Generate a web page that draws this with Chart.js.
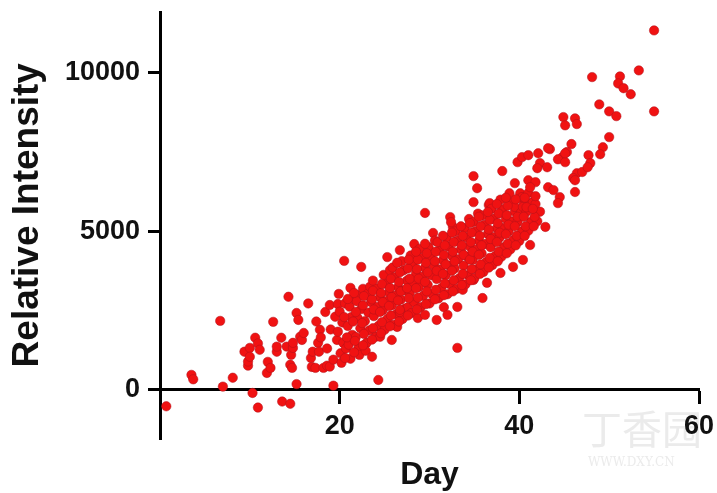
<!DOCTYPE html>
<html>
<head>
<meta charset="utf-8">
<script src="https://cdn.jsdelivr.net/npm/chart.js@4.4.1/dist/chart.umd.min.js"></script>
<style>
  html, body { margin: 0; padding: 0; background: #fff; }
  #wrap { width: 717px; height: 493px; }
</style>
</head>
<body>
<div id="wrap"><canvas id="chart"></canvas></div>
<script>
// [day, relative intensity]
const lowerTail = [
    [0.7,-520],[3.5,470],[3.7,330],[6.7,2170],[7.0,100],[8.1,380],
    [9.4,1200],[9.8,760],[9.8,890],[10.0,1320],[10.0,1040],[10.3,-100],
    [10.6,1640],[10.9,-560],[10.9,1460],[11.1,1260],[11.9,530],[12.0,880],
    [12.3,690],[12.6,2140],[13.0,1200],[13.0,1360],[13.5,1640],[13.6,-370],
    [14.1,1360],[14.3,2930],[14.5,-440],[14.5,790],[14.6,1100],[14.7,690],
    [14.8,1320],[14.8,1480],[15.2,180],[15.2,2420],[15.4,2200],[15.6,1670],
    [15.8,1570],[16.0,1790],[16.5,2720],[16.8,1000],[16.9,720],[17.0,1200],
    [17.3,690],[17.4,2150],[17.6,1480],[17.7,1200],[17.8,1890],[17.9,1650],
    [18.2,690],[18.4,2450],[18.6,760],[18.6,1300],[18.9,730],[18.9,2670],
    [19.0,1900],[19.3,130],[19.3,950],[19.5,2300],[19.7,1570],[19.8,2700]
];

const core = [
    [20.1,1150],[20.4,1480],[19.8,1830],[20.3,2120],[20.0,2460],[20.6,2720],[19.9,3020],[20.7,1300],[20.2,850],[20.5,4060],
    [21.2,980],[21.0,1420],[21.4,1730],[20.9,2010],[21.3,2290],[21.1,2620],[21.5,2880],[21.2,3210],[21.9,2990],
    [22.1,1320],[21.8,1660],[22.3,1940],[22.0,2260],[22.4,2540],[21.9,2790],[22.2,1100],[22.4,3870],[22.6,3180],
    [23.0,1480],[23.3,1870],[22.8,2160],[23.2,2430],[23.5,2760],[23.1,3020],[22.9,1230],[23.6,1040],[23.4,3250],
    [24.0,1670],[24.3,2010],[23.8,2320],[24.2,2610],[24.5,2920],[24.1,3190],[23.7,3440],[24.5,1670],[24.3,310],
    [25.0,1890],[25.3,2230],[24.8,2510],[25.2,2790],[25.5,3060],[25.1,3340],[24.9,3620],[25.8,1570],[25.3,4180],[25.6,3770],
    [26.0,2040],[26.3,2380],[25.8,2660],[26.2,2960],[26.5,3230],[26.1,3540],[25.9,3850],[26.4,1980],[26.7,4400],
    [27.0,2230],[27.3,2560],[26.8,2840],[27.2,3130],[27.5,3440],[27.1,3760],[26.9,4050],[27.6,2600],[26.7,2450],
    [28.0,2420],[28.3,2760],[27.8,3040],[28.2,3360],[28.5,3660],[28.1,3950],[27.9,4230],[28.7,2260],[28.3,4590],
    [29.0,2600],[29.3,2960],[28.8,3240],[29.2,3560],[29.5,3840],[29.1,4150],[28.9,4440],[29.5,2360],[29.5,5570],
    [30.0,2720],[30.3,3010],[29.8,3310],[30.2,3610],[30.5,3910],[30.1,4210],[29.9,4490],[30.8,2200],[30.4,4940],[30.6,4700],
    [31.0,2880],[31.3,3200],[30.8,3490],[31.2,3790],[31.5,4080],[31.1,4390],[30.9,4650],[31.6,2600],
    [32.0,3010],[32.3,3320],[31.8,3610],[32.2,3910],[32.5,4220],[32.1,4510],[31.9,4790],[32.0,2360],[32.3,5440],[32.6,5130],[32.4,5280],
    [33.0,3180],[33.3,3510],[32.8,3820],[33.2,4110],[33.5,4420],[33.1,4700],[32.9,4990],[33.1,2610],[33.1,1320],[33.7,3150],
    [34.0,3320],[34.3,3610],[33.8,3910],[34.2,4190],[34.5,4510],[34.1,4800],[33.9,5090],[34.4,5380],[34.9,3460],
    [35.0,3520],[35.3,3800],[34.8,4090],[35.2,4410],[35.5,4690],[35.1,4990],[34.9,5290],[35.4,5550],[34.9,5910],[34.9,6730],[35.3,6350],[35.9,2890],
    [36.0,3710],[36.3,4020],[35.8,4300],[36.2,4590],[36.5,4910],[36.1,5190],[35.9,5490],[36.4,3370],[36.6,5820],[36.7,5880],
    [37.0,3930],[37.3,4210],[36.8,4490],[37.2,4810],[37.5,5090],[37.1,5390],[36.9,5700],[37.9,3680],
    [38.0,4190],[38.3,4490],[37.8,4790],[38.2,5100],[38.5,5390],[38.1,5690],[37.9,5990],[38.1,6890],
    [39.0,4420],[39.3,4710],[38.8,4990],[39.2,5300],[39.5,5610],[39.1,5910],[38.9,6190],[39.3,3870],[39.5,6510],[39.5,5760],
    [40.0,4690],[40.3,4990],[39.8,5290],[40.2,5590],[40.5,5890],[40.1,6190],[40.4,4090],[40.3,6070],[40.4,5760],
    [41.0,5010],[41.3,5290],[40.8,5610],[41.2,5880],[41.5,5910],[41.2,4560],[41.0,6200],[41.0,6600],[41.8,6540],[41.2,6380],
    [42.0,5310],[42.3,5610],[41.8,5850],[42.9,5130]
];

// overlapping dots inside the solid part of the band
const coreFill = [
    [20.6,1000],[20.8,1650],[20.5,2290],[20.9,2860],
    [21.6,1180],[21.7,1540],[21.5,2150],[21.8,2450],[21.6,3050],
    [22.6,1400],[22.7,1760],[22.5,2100],[22.6,2660],[22.7,2950],
    [23.6,1580],[23.7,1940],[23.8,2530],[23.6,2850],[23.7,3120],
    [24.6,1780],[24.7,2130],[24.5,2450],[24.8,2760],[24.6,3050],[24.7,3330],
    [25.6,2000],[25.7,2340],[25.5,2640],[25.8,2920],[25.6,3210],[25.7,3500],
    [26.6,2150],[26.7,2520],[26.5,2810],[26.8,3100],[26.6,3400],[26.7,3700],[26.4,4000],
    [27.6,2340],[27.7,2890],[27.5,3200],[27.8,3500],[27.6,3820],[27.7,4100],
    [28.6,2530],[28.7,2900],[28.5,3200],[28.8,3500],[28.6,3800],[28.7,4100],[28.5,4350],
    [29.6,2700],[29.7,3100],[29.5,3400],[29.8,3700],[29.6,4000],[29.7,4300],[29.5,4600],
    [30.6,2850],[30.7,3150],[30.8,3750],[30.6,4050],[30.7,4350],
    [31.6,2980],[31.7,3350],[31.5,3650],[31.8,3950],[31.6,4250],[31.7,4550],[31.5,4850],
    [32.6,3100],[32.7,3450],[32.5,3750],[32.8,4050],[32.6,4350],[32.7,4650],[32.5,4950],
    [33.6,3300],[33.7,3650],[33.8,4250],[33.6,4550],[33.7,4850],[33.5,5150],
    [34.6,3450],[34.7,3800],[34.5,4100],[34.8,4350],[34.6,4650],[34.7,4950],[34.5,5250],
    [35.6,3650],[35.7,3950],[35.5,4250],[35.8,4550],[35.6,4850],[35.7,5150],[35.5,5450],
    [36.6,3850],[36.7,4150],[36.8,4750],[36.6,5050],[36.7,5350],[36.5,5600],
    [37.6,4050],[37.7,4350],[37.5,4650],[37.8,4950],[37.6,5250],[37.7,5550],[37.5,5850],
    [38.6,4300],[38.7,4600],[38.5,4900],[38.8,5200],[38.6,5500],[38.7,5800],[38.5,6050],
    [39.6,4550],[39.7,4850],[39.5,5150],[39.8,5450],[39.6,6000],
    [40.6,4850],[40.7,5150],[40.5,5450],[40.8,5750],[40.6,6050],
    [41.6,5150],[41.7,5450],[41.5,5700],[41.8,6100]
];

const upperTail = [
    [39.8,7170],[40.3,7330],[41.0,7390],[42.1,7450],[43.4,7580],[43.2,7610],
    [42.3,7140],[43.1,7010],[42.0,6980],[43.2,6380],[43.8,6290],[44.5,6070],
    [44.3,5880],[44.9,8590],[45.1,8330],[46.2,8550],[46.4,8370],[45.8,7740],
    [45.3,7490],[44.8,7330],[44.3,7260],[45.1,7170],[45.1,7450],[46.4,6820],
    [46.0,6670],[47.0,6860],[46.2,6600],[46.2,6230],[47.7,7390],[47.9,7140],
    [47.6,7010],[48.1,9850],[48.9,8990],[50.0,8770],[50.8,8620],[50.0,7960],
    [49.3,7640],[49.0,7420],[51.2,9870],[51.0,9650],[51.6,9500],[52.4,9310],
    [53.3,10060],[55.0,11320],[55.0,8770]
];

const xTicks = [20, 40, 60];
const yTicks = [0, 5000, 10000];
const xTitle = 'Day';
const yTitle = '  Relative Intensity';   // leading spaces nudge the centred title upward

const points = lowerTail.concat(core, coreFill, upperTail).map(p => ({ x: p[0], y: p[1] }));

// faint site watermark in the lower right corner
const watermark = {
    id: 'watermark',
    beforeDraw(chart) {
        const ctx = chart.ctx;
        ctx.save();
        ctx.fillStyle = '#ebebeb';
        ctx.font = '40px "Noto Sans CJK SC"';
        ctx.fillText('丁香园', 582, 444);
        ctx.font = '12px "DejaVu Serif"';
        ctx.fillText('WWW.DXY.CN', 588, 466);
        ctx.restore();
    }
};

const tickFont = { family: 'Liberation Sans', size: 27, weight: 'bold' };

new Chart(document.getElementById('chart'), {
    type: 'scatter',
    data: {
        datasets: [{
            data: points,
            backgroundColor: '#f01212',
            borderColor: 'rgba(178,18,26,0.75)',
            borderWidth: 0.7,
            pointRadius: 4.7,
            pointHoverRadius: 4.7
        }]
    },
    options: {
        responsive: true,
        maintainAspectRatio: false,
        animation: false,
        layout: { padding: { left: 0, top: 12, right: 18, bottom: 54 } },
        plugins: {
            legend: { display: false },
            tooltip: { enabled: false }
        },
        scales: {
            x: {
                type: 'linear',
                min: 0,
                max: 60,
                position: { y: 0 },
                afterBuildTicks: s => { s.ticks = xTicks.map(v => ({ value: v })); },
                afterFit: s => { s.height = 105; s.paddingLeft = 0; s.paddingRight = 0; },
                grid: { drawOnChartArea: false, drawTicks: true, tickLength: 13, tickWidth: 3, tickColor: '#000' },
                border: { display: true, color: '#000', width: 3 },
                ticks: { color: '#111', font: tickFont, padding: 8, maxRotation: 0, callback: v => String(v) },
                title: { display: true, text: xTitle, color: '#111', font: { family: 'Liberation Sans', size: 32, weight: 'bold' }, padding: 0 }
            },
            y: {
                type: 'linear',
                min: -1550,
                max: 11900,
                position: 'left',
                afterBuildTicks: s => { s.ticks = yTicks.map(v => ({ value: v })); },
                afterFit: s => { s.width = 160; s.paddingTop = 0; s.paddingBottom = 0; },
                grid: { drawOnChartArea: false, drawTicks: true, tickLength: 12, tickWidth: 3, tickColor: '#000' },
                border: { display: true, color: '#000', width: 3 },
                ticks: { color: '#111', font: tickFont, padding: 8, callback: v => String(v) },
                title: { display: true, text: yTitle, color: '#111', font: { family: 'Liberation Sans', size: 37, weight: 'bold' }, padding: { top: 6, bottom: 0 } }
            }
        }
    },
    plugins: [watermark]
});
</script>
</body>
</html>
